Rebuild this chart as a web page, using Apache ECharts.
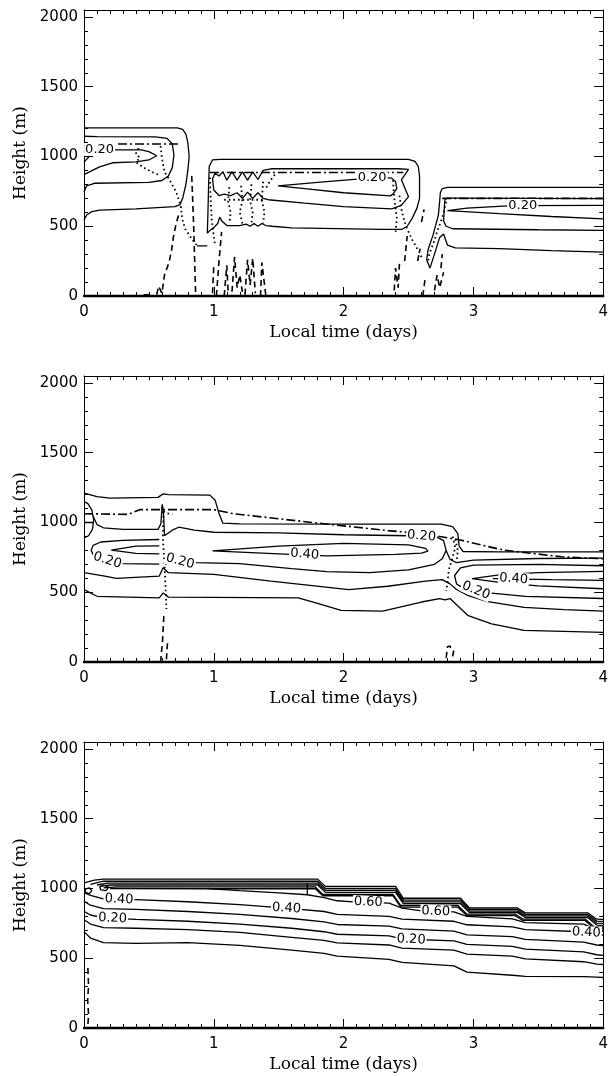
<!DOCTYPE html>
<html><head><meta charset="utf-8">
<script src="https://cdn.jsdelivr.net/npm/echarts@6/dist/echarts.min.js"></script>
<style>html,body{margin:0;padding:0;background:#fff}#c{width:611px;height:1076px}</style>
</head><body><div id="c"></div><script>
// ---- tick values ----
const xMajorTicks = [0, 1, 2, 3, 4];
const yMajorTicks = [0, 500, 1000, 1500, 2000];
const yMinorTicks = [100,200,300,400,600,700,800,900,1100,1200,1300,1400,1600,1700,1800,1900];

// ---- PANEL 1 ----
const p1_a = [[0,545],[0.02,580],[0.06,605],[0.12,615],[0.4,625],[0.7,640],[0.74,655],[0.76,700],[0.785,800],[0.80,900],[0.81,1000],[0.80,1100],[0.785,1160],[0.76,1195],[0.72,1205],[0.3,1205],[0,1205]];
const p1_b = [[0,745],[0.02,790],[0.08,808],[0.5,815],[0.6,828],[0.65,860],[0.68,920],[0.693,1010],[0.68,1090],[0.64,1130],[0.55,1140],[0.1,1142],[0,1145]];
const p1_c = [[0,1080],[0.02,1065],[0.05,1055],[0.22,1047],[0.44,1048],[0.50,1035],[0.56,1005],[0.50,975],[0.40,962],[0.22,955],[0.12,925],[0.05,893],[0,870]];
const p1_cedge = [[0,1035],[0.04,1000],[0,960]];
const p1_dd1 = [[0,1090],[0.74,1090]];
const p1_d = [[0.95,450],[0.955,600],[0.96,800],[0.965,930],[0.99,975],[1.05,980],[2.5,980],[2.55,965],[2.575,930],[2.585,860],[2.585,700],[2.565,630],[2.53,560],[2.49,500],[2.45,478],[2.3,478],[1.6,488],[1.45,500],[1.40,505],[1.37,520],[1.34,500],[1.31,520],[1.28,500],[1.25,515],[1.2,505],[1.1,505],[1.06,540],[1.045,565],[1.03,520],[1.0,490],[0.97,470],[0.95,450]];
const p1_e = [[1.44,912],[2.42,912],[2.50,908],[2.445,833],[2.50,712],[2.445,650],[2.37,625],[2.0,640],[1.7,665],[1.42,690],[1.38,700],[1.34,740],[1.30,700],[1.26,745],[1.22,700],[1.18,740],[1.13,720],[1.08,730],[1.04,720],[1.0,760],[0.99,840],[1.01,880],[1.04,860],[1.07,890],[1.10,830],[1.14,890],[1.18,830],[1.22,890],[1.26,830],[1.30,890],[1.34,835],[1.38,900],[1.44,912]];
const p1_f = [[1.495,790],[1.8,815],[2.13,840],[2.32,848],[2.37,845],[2.40,820],[2.41,770],[2.38,730],[2.36,718],[2.0,740],[1.7,770],[1.495,790]];
const p1_dd2 = [[0.97,885],[2.46,885]];
const p1_g = [[4.0,778],[2.80,778],[2.76,770],[2.745,740],[2.74,680],[2.73,580],[2.69,440],[2.65,330],[2.64,260],[2.665,200],[2.70,300],[2.74,420],[2.77,445],[2.80,365],[2.86,345],[3.2,340],[3.6,325],[4.0,315]];
const p1_h = [[4.0,698],[2.80,702],[2.78,690],[2.775,620],[2.77,540],[2.79,500],[2.84,482],[3.5,475],[4.0,470]];
const p1_i = [[4.0,650],[3.3,648],[2.95,630],[2.80,612],[3.2,590],[3.6,570],[4.0,553]];
const p1_dd3 = [[2.76,700],[4.0,700]];
const p1_dot1 = [[0.42,1060],[0.40,1020],[0.43,990],[0.40,960],[0.46,920],[0.52,890],[0.58,867]];
const p1_dot2 = [[0.59,1075],[0.60,990],[0.62,890],[0.66,830],[0.71,745],[0.745,650],[0.757,550],[0.78,480],[0.83,410],[0.87,362]];
const p1_dot3 = [[0.97,850],[0.975,700],[0.985,530],[1.01,360]];
const p1_dot4 = [[1.12,780],[1.11,680],[1.13,600],[1.12,520]];
const p1_dot5 = [[1.21,790],[1.22,680],[1.20,600],[1.22,520]];
const p1_dot6 = [[1.29,800],[1.28,680],[1.30,600],[1.29,520]];
const p1_dot7 = [[1.38,820],[1.37,690],[1.39,600],[1.38,520]];
const p1_dot8 = [[1.08,690],[1.40,690]];
const p1_dot9 = [[1.47,870],[1.43,820],[1.40,770]];
const p1_dot10 = [[2.38,830],[2.39,700],[2.41,560],[2.40,460]];
const p1_dot11 = [[2.43,720],[2.45,600],[2.48,500],[2.53,400],[2.58,320],[2.61,260]];
const p1_dot12 = [[2.79,675],[2.76,560],[2.72,460],[2.70,400],[2.66,300],[2.65,240]];
const p1_ds1 = [[0.46,8],[0.53,8]];
const p1_ds2 = [[0.56,10],[0.575,70],[0.6,20],[0.62,150],[0.655,240],[0.675,330],[0.69,430],[0.71,520],[0.735,600]];
const p1_ds3 = [[0.83,860],[0.845,500],[0.86,10]];
const p1_ds4 = [[0.99,20],[1.0,220]];
const p1_ds5 = [[1.02,0],[1.04,250],[1.06,460]];
const p1_ds6 = [[1.08,0],[1.10,220],[1.11,40]];
const p1_ds7 = [[1.14,30],[1.16,280],[1.18,60],[1.20,150],[1.22,30]];
const p1_ds8 = [[1.24,10],[1.26,260],[1.28,80],[1.30,270],[1.32,20]];
const p1_ds9 = [[1.36,0],[1.37,240],[1.40,10]];
const p1_ds10 = [[2.39,40],[2.40,200],[2.42,60],[2.43,230]];
const p1_ds11 = [[2.47,250],[2.49,430]];
const p1_ds12 = [[2.60,530],[2.62,620]];
const p1_ds13 = [[2.61,0],[2.63,140]];
const p1_ds14 = [[2.70,40],[2.72,150],[2.74,60],[2.77,170]];
const p1_ds15 = [[2.57,250],[2.59,340]];
const p1_ds16 = [[2.75,200],[2.76,300]];
const p1_ds17 = [[0.87,360],[0.95,360]];
const p1_labels = [[0.12,1050,'0.20',0],[2.22,846,'0.20',0],[3.38,649,'0.20',0]];

// ---- PANEL 2 ----
const p2_outer = [[0,1210],[0.1,1185],[0.2,1175],[0.57,1180],[0.61,1205],[0.65,1200],[0.97,1196],[1.01,1160],[1.04,1065],[1.07,995],[1.2,990],[2.0,988],[2.75,988],[2.84,970],[2.88,920],[2.89,830],[2.92,792],[3.2,790],[4.0,790]];
const p2_dd = [[0,1063],[0.34,1058],[0.43,1092],[1.0,1092],[1.15,1063],[1.74,1002],[2.34,942],[2.63,918],[2.9,874],[3.23,802],[3.68,754],[4.0,740]];
const p2_c2left = [[0.07,1045],[0.10,985],[0.15,962],[0.3,950],[0.57,950],[0.592,990],[0.603,1130],[0.612,1080],[0.62,905]];
const p2_mid20 = [[0.62,905],[0.68,945],[0.73,966],[0.85,945],[1.0,930],[1.5,925],[2.0,912],[2.5,905],[2.72,895],[2.77,870],[2.79,800],[2.76,740],[2.70,700],[2.5,660],[2.2,640],[1.87,648],[1.6,670],[1.2,705],[0.86,712],[0.75,720],[0.64,705],[0.625,700]];
const p2_reg3top = [[2.79,800],[2.82,735],[2.87,712],[3.0,730],[3.5,742],[4.0,745]];
const p2_eyeL = [[0.58,878],[0.3,872],[0.13,860],[0.07,836],[0.055,800],[0.07,770],[0.13,745],[0.3,705],[0.58,702]];
const p2_eyeLin = [[0.58,832],[0.40,830],[0.21,802],[0.40,778],[0.58,775]];
const p2_tongue = [[0.99,797],[1.5,830],[2.0,850],[2.5,840],[2.63,815],[2.65,795],[2.6,780],[2.4,772],[1.87,760],[1.5,775],[0.99,797]];
const p2_eyeR = [[4.0,690],[3.5,700],[3.0,695],[2.9,675],[2.855,620],[2.87,560],[2.92,530],[3.12,495],[3.4,470],[4.0,455]];
const p2_tongueR = [[4.0,650],[3.5,640],[3.2,625],[2.99,597],[3.2,570],[3.5,545],[4.0,525]];
const p2_40R = [[3.15,598],[3.6,590],[4.0,585]];
const p2_L6 = [[0,640],[0.16,616],[0.25,600],[0.58,616],[0.61,676],[0.65,640],[1.0,628],[1.44,580],[2.04,519],[2.34,543],[2.63,580],[2.76,590],[2.82,560],[2.87,520],[2.95,480],[3.1,435],[3.39,392],[3.7,375],[4.0,365]];
const p2_bottom = [[0,519],[0.1,471],[0.58,459],[0.61,495],[0.65,465],[1.65,459],[1.8,420],[1.98,370],[2.3,365],[2.6,430],[2.74,455],[2.78,445],[2.82,455],[2.86,420],[2.96,332],[3.14,274],[3.39,226],[4.0,212]];
const p2_circle = [[0,1150],[0.03,1135],[0.06,1090],[0.075,1020],[0.065,950],[0.035,905],[0,890]];
const p2_circH = [[0,1000],[0.075,1000]];
const p2_dot1 = [[0.60,1110],[0.612,1060],[0.607,900],[0.62,700],[0.625,600],[0.63,490],[0.635,380]];
const p2_dot2 = [[0.612,1080],[0.64,1065],[0.68,1060]];
const p2_dot3 = [[2.84,900],[2.86,820],[2.84,750],[2.81,660],[2.80,560],[2.79,510]];
const p2_dot4 = [[2.86,880],[2.88,800],[2.87,720]];
const p2_ds1 = [[0.59,0],[0.605,150],[0.615,330]];
const p2_ds2 = [[0.635,20],[0.645,160]];
const p2_ds3 = [[2.79,30],[2.80,110],[2.82,115],[2.83,80]];
const p2_ds4 = [[2.84,40],[2.85,90]];
const p2_labels = [[0.18,728,'0.20',-18],[0.74,722,'0.20',-15],[2.60,902,'0.20',-5],[1.70,772,'0.40',-5],[3.02,512,'0.20',-22],[3.31,596,'0.40',-4]];

// ---- PANEL 3 ----
const p3_b1 = [[0,1040],[0.08,1060],[0.15,1067],[1.80,1067],[1.86,1015],[2.40,1015],[2.46,930],[2.90,930],[2.97,860],[3.34,860],[3.40,825],[3.88,825],[3.95,780],[4.0,778]];
const p3_b2 = [[0.05,1030],[0.15,1052],[1.80,1052],[1.86,1000],[2.40,1000],[2.46,917],[2.90,917],[2.97,849],[3.34,849],[3.40,814],[3.88,814],[3.95,766],[4.0,764]];
const p3_b3 = [[0.1,1025],[0.18,1038],[1.80,1038],[1.86,986],[2.40,986],[2.46,904],[2.90,904],[2.97,838],[3.34,838],[3.40,803],[3.88,803],[3.95,752],[4.0,750]];
const p3_b4 = [[0.12,1015],[0.2,1025],[1.80,1025],[1.86,972],[2.40,972],[2.46,891],[2.90,891],[2.97,827],[3.34,827],[3.40,792],[3.88,792],[3.95,738],[4.0,736]];
const p3_b5 = [[0.15,1005],[0.25,1012],[1.78,1012],[1.84,958],[2.38,958],[2.44,878],[2.88,878],[2.95,816],[3.32,816],[3.38,781],[3.86,781],[3.93,724],[4.0,722]];
const p3_b6 = [[0.2,1000],[1.0,998],[1.78,1000],[1.84,948],[2.38,948],[2.44,866],[2.88,866],[2.95,806],[3.32,806],[3.38,771],[3.86,771],[3.93,714],[4.0,712]];
const p3_L60 = [[0.95,1000],[1.2,985],[1.5,968],[1.72,955],[1.85,935],[1.95,912],[2.1,902],[2.35,895],[2.45,860],[2.6,840],[2.85,832],[2.95,800],[3.3,782],[3.4,755],[3.85,745],[3.95,700],[4.0,695]];
const p3_vert = [[1.72,955],[1.72,1040]];
const p3_L40 = [[0,970],[0.05,950],[0.15,925],[0.4,920],[0.8,905],[1.2,885],[1.6,855],[1.85,835],[1.95,815],[2.35,800],[2.45,780],[2.85,765],[2.95,740],[3.3,725],[3.4,705],[3.85,690],[3.95,670],[4.0,665]];
const p3_L30 = [[0,909],[0.05,880],[0.15,855],[0.4,850],[0.8,835],[1.2,815],[1.6,785],[1.85,760],[1.95,742],[2.35,730],[2.45,710],[2.85,695],[2.95,668],[3.3,655],[3.4,635],[3.85,615],[3.95,595],[4.0,590]];
const p3_L20 = [[0,836],[0.05,810],[0.15,790],[0.4,778],[0.8,765],[1.2,745],[1.6,715],[1.85,690],[1.95,672],[2.35,660],[2.45,638],[2.85,625],[2.95,600],[3.3,585],[3.4,565],[3.85,545],[3.95,525],[4.0,520]];
const p3_L10 = [[0,776],[0.05,745],[0.15,720],[0.4,715],[0.8,705],[1.2,685],[1.6,650],[1.85,628],[1.95,610],[2.35,595],[2.45,572],[2.85,558],[2.95,530],[3.3,515],[3.4,495],[3.85,475],[3.95,458],[4.0,455]];
const p3_L05 = [[0,691],[0.05,645],[0.15,612],[0.4,606],[0.8,612],[1.2,592],[1.6,558],[1.85,535],[1.95,515],[2.35,492],[2.45,470],[2.85,445],[2.95,400],[3.3,378],[3.4,370],[3.85,368],[3.95,364],[4.0,362]];
const p3_loop1 = [[0.01,995],[0.04,1005],[0.06,985],[0.04,962],[0.01,975],[0.01,995]];
const p3_loop2 = [[0.12,1010],[0.15,1025],[0.19,1010],[0.17,985],[0.13,990],[0.12,1010]];
const p3_ds1 = [[0.03,430],[0.035,300],[0.028,200],[0.035,100],[0.03,20]];
const p3_labels = [[0.27,922,'0.40',-3],[1.56,858,'0.40',-4],[3.87,684,'0.40',-3],[2.19,902,'0.60',-2],[2.71,836,'0.60',-2],[0.22,786,'0.20',-3],[2.52,634,'0.20',-3]];

// ---- series specs: [panel, data, style] ----
const specs = [
 [0,p1_a,'solid'],[0,p1_b,'solid'],[0,p1_c,'solid'],[0,p1_cedge,'solid'],[0,p1_dd1,'dashdot'],
 [0,p1_d,'solid'],[0,p1_e,'solid'],[0,p1_f,'solid'],[0,p1_dd2,'dashdot'],
 [0,p1_g,'solid'],[0,p1_h,'solid'],[0,p1_i,'solid'],[0,p1_dd3,'dashdot'],
 [0,p1_dot1,'dot'],[0,p1_dot2,'dot'],[0,p1_dot3,'dot'],[0,p1_dot4,'dot'],[0,p1_dot5,'dot'],[0,p1_dot6,'dot'],
 [0,p1_dot7,'dot'],[0,p1_dot8,'dot'],[0,p1_dot9,'dot'],[0,p1_dot10,'dot'],[0,p1_dot11,'dot'],[0,p1_dot12,'dot'],
 [0,p1_ds1,'dash'],[0,p1_ds2,'dash'],[0,p1_ds3,'dash'],[0,p1_ds4,'dash'],[0,p1_ds5,'dash'],[0,p1_ds6,'dash'],
 [0,p1_ds7,'dash'],[0,p1_ds8,'dash'],[0,p1_ds9,'dash'],[0,p1_ds10,'dash'],[0,p1_ds11,'dash'],[0,p1_ds12,'dash'],
 [0,p1_ds13,'dash'],[0,p1_ds14,'dash'],[0,p1_ds15,'dash'],[0,p1_ds16,'dash'],[0,p1_ds17,'solid'],
 [1,p2_outer,'solid'],[1,p2_dd,'dashdot'],[1,p2_c2left,'solid'],[1,p2_mid20,'solid'],[1,p2_reg3top,'solid'],
 [1,p2_eyeL,'solid'],[1,p2_eyeLin,'solid'],[1,p2_tongue,'solid'],[1,p2_eyeR,'solid'],[1,p2_tongueR,'solid'],
 [1,p2_40R,'solid'],[1,p2_L6,'solid'],[1,p2_bottom,'solid'],[1,p2_circle,'solid'],[1,p2_circH,'solid'],
 [1,p2_dot1,'dot'],[1,p2_dot2,'dot'],[1,p2_dot3,'dot'],[1,p2_dot4,'dot'],
 [1,p2_ds1,'dash'],[1,p2_ds2,'dash'],[1,p2_ds3,'dash'],[1,p2_ds4,'dash'],
 [2,p3_b1,'solid'],[2,p3_b2,'solid'],[2,p3_b3,'solid'],[2,p3_b4,'solid'],[2,p3_b5,'solid'],[2,p3_b6,'solid'],
 [2,p3_L60,'solid'],[2,p3_vert,'solid'],[2,p3_L40,'solid'],[2,p3_L30,'solid'],[2,p3_L20,'solid'],
 [2,p3_L10,'solid'],[2,p3_L05,'solid'],[2,p3_loop1,'solid'],[2,p3_loop2,'solid'],[2,p3_ds1,'dash']
];
const labelSets = [p1_labels, p2_labels, p3_labels];

const STY = {
  solid: {color:'#000', width:1.3, type:'solid'},
  dash: {color:'#000', width:1.6, type:[6,4]},
  dot: {color:'#000', width:1.8, type:[1.6,3]},
  dashdot: {color:'#000', width:1.6, type:[9,3,2,3]}
};

const grids = [
  {left:84, width:525, top:10, height:286},
  {left:84, width:525, top:376, height:286},
  {left:84, width:525, top:742, height:286}
];
const numFont = 'DejaVu Sans';
const txtFont = 'DejaVu Serif';
const xAxes = [], yAxes = [];
grids.forEach((g, i) => {
  xAxes.push({gridIndex:i, type:'value', min:0, max:4, interval:1, position:'bottom',
    axisLine:{show:true, onZero:false, lineStyle:{color:'#000', width:2.4}},
    axisTick:{show:true, inside:true, length:9, lineStyle:{color:'#000', width:1}},
    minorTick:{show:true, splitNumber:10, length:4, lineStyle:{color:'#000', width:1}},
    splitLine:{show:false}, minorSplitLine:{show:false},
    axisLabel:{color:'#000', fontFamily:numFont, fontSize:15, margin:9, formatter:v => String(v)},
    name:'Local time (days)', nameLocation:'middle', nameGap:28,
    nameTextStyle:{color:'#000', fontFamily:txtFont, fontSize:17}});
  xAxes.push({gridIndex:i, type:'value', min:0, max:4, interval:1, position:'top',
    axisLine:{show:true, onZero:false, lineStyle:{color:'#000', width:1}},
    axisTick:{show:true, inside:true, length:9, lineStyle:{color:'#000', width:1}},
    minorTick:{show:true, splitNumber:10, length:4, lineStyle:{color:'#000', width:1}},
    splitLine:{show:false}, axisLabel:{show:false}});
  const yBase = (pos, major, withLabel) => ({gridIndex:i, type:'value', min:0, max:2050, position:pos,
    axisLine:{show:major, onZero:false, lineStyle:{color:'#000', width:1}},
    axisTick:{show:true, inside:true, length: major ? 9 : 4, customValues: major ? yMajorTicks : yMinorTicks, lineStyle:{color:'#000', width:1}},
    splitLine:{show:false},
    axisLabel: withLabel ? {show:true, color:'#000', fontFamily:numFont, fontSize:15, margin:6, customValues:yMajorTicks, formatter:v => String(v)} : {show:false},
    name: withLabel ? 'Height (m)' : '', nameLocation:'middle', nameGap:48,
    nameTextStyle:{color:'#000', fontFamily:txtFont, fontSize:17}});
  yAxes.push(yBase('left', true, true));
  yAxes.push(yBase('left', false, false));
  yAxes.push(yBase('right', true, false));
  yAxes.push(yBase('right', false, false));
});

const series = specs.map(([p, data, st]) => ({
  type:'line', xAxisIndex:p*2, yAxisIndex:p*4, data:data, showSymbol:false, symbol:'none',
  lineStyle:STY[st], silent:true, animation:false, z:2
}));
labelSets.forEach((set, p) => {
  series.push({type:'scatter', xAxisIndex:p*2, yAxisIndex:p*4, symbolSize:2, silent:true, animation:false, z:5,
    itemStyle:{color:'transparent'},
    labelLayout:{hideOverlap:false},
    label:{show:true, position:'inside', formatter:'{b}', color:'#000', fontFamily:numFont, fontSize:13,
      backgroundColor:'#fff', padding:[0,1], opacity:1},
    data:set.map(r => ({value:[r[0], r[1]], name:r[2], label:{rotate:r[3]}}))});
});

const chart = echarts.init(document.getElementById('c'), null, {renderer:'canvas'});
chart.setOption({backgroundColor:'#fff', animation:false, grid:grids, xAxis:xAxes, yAxis:yAxes, series:series});
</script></body></html>
